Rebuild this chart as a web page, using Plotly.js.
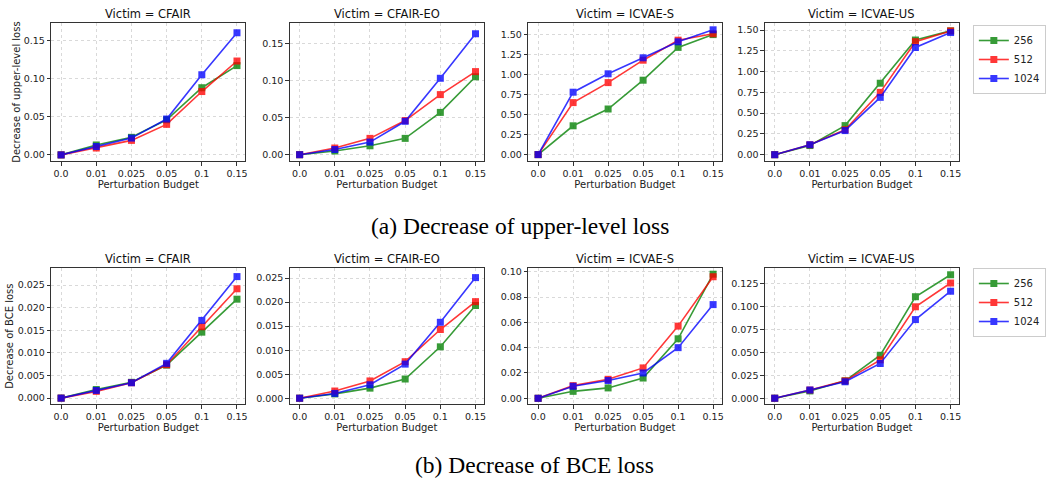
<!DOCTYPE html>
<html>
<head>
<meta charset="utf-8">
<script src="https://cdn.plot.ly/plotly-3.0.1.min.js"></script>
<style>html,body{margin:0;padding:0;background:#fff;}#chart{width:1046px;height:485px;}</style>
</head>
<body>
<div id="chart"></div>
<script>
// ---- data ----
const budgets = ["0.0", "0.01", "0.025", "0.05", "0.1", "0.15"];
const seriesNames = ["256", "512", "1024"];
const victims = ["CFAIR", "CFAIR-EO", "ICVAE-S", "ICVAE-US"];

// Row (a): Decrease of upper-level loss
const upper_CFAIR_256  = [0, 0.013, 0.023, 0.046, 0.088, 0.117];
const upper_CFAIR_512  = [0, 0.009, 0.019, 0.040, 0.083, 0.123];
const upper_CFAIR_1024 = [0, 0.011, 0.022, 0.047, 0.105, 0.160];

const upper_CFAIREO_256  = [0, 0.005, 0.012, 0.022, 0.057, 0.105];
const upper_CFAIREO_512  = [0, 0.009, 0.022, 0.046, 0.081, 0.112];
const upper_CFAIREO_1024 = [0, 0.007, 0.017, 0.045, 0.103, 0.163];

const upper_ICVAES_256  = [0, 0.36, 0.57, 0.93, 1.34, 1.50];
const upper_ICVAES_512  = [0, 0.65, 0.90, 1.18, 1.43, 1.51];
const upper_ICVAES_1024 = [0, 0.78, 1.01, 1.21, 1.41, 1.56];

const upper_ICVAEUS_256  = [0, 0.11, 0.35, 0.86, 1.38, 1.49];
const upper_ICVAEUS_512  = [0, 0.12, 0.30, 0.75, 1.36, 1.49];
const upper_ICVAEUS_1024 = [0, 0.12, 0.29, 0.69, 1.29, 1.47];

// Row (b): Decrease of BCE loss
const bce_CFAIR_256  = [0, 0.0019, 0.0035, 0.0073, 0.0146, 0.0219];
const bce_CFAIR_512  = [0, 0.0015, 0.0034, 0.0074, 0.0158, 0.0242];
const bce_CFAIR_1024 = [0, 0.0017, 0.0034, 0.0077, 0.0172, 0.0269];

const bce_CFAIREO_256  = [0, 0.0009, 0.0021, 0.0040, 0.0107, 0.0193];
const bce_CFAIREO_512  = [0, 0.0015, 0.0036, 0.0076, 0.0143, 0.0201];
const bce_CFAIREO_1024 = [0, 0.0010, 0.0028, 0.0071, 0.0158, 0.0251];

const bce_ICVAES_256  = [0, 0.0055, 0.0082, 0.016, 0.047, 0.098];
const bce_ICVAES_512  = [0, 0.010, 0.015, 0.024, 0.057, 0.096];
const bce_ICVAES_1024 = [0, 0.0095, 0.014, 0.020, 0.040, 0.074];

const bce_ICVAEUS_256  = [0, 0.008, 0.019, 0.047, 0.111, 0.135];
const bce_ICVAEUS_512  = [0, 0.009, 0.019, 0.042, 0.100, 0.126];
const bce_ICVAEUS_1024 = [0, 0.009, 0.018, 0.038, 0.086, 0.117];

const rows = [
  [[upper_CFAIR_256, upper_CFAIR_512, upper_CFAIR_1024],
   [upper_CFAIREO_256, upper_CFAIREO_512, upper_CFAIREO_1024],
   [upper_ICVAES_256, upper_ICVAES_512, upper_ICVAES_1024],
   [upper_ICVAEUS_256, upper_ICVAEUS_512, upper_ICVAEUS_1024]],
  [[bce_CFAIR_256, bce_CFAIR_512, bce_CFAIR_1024],
   [bce_CFAIREO_256, bce_CFAIREO_512, bce_CFAIREO_1024],
   [bce_ICVAES_256, bce_ICVAES_512, bce_ICVAES_1024],
   [bce_ICVAEUS_256, bce_ICVAEUS_512, bce_ICVAEUS_1024]]
];
const yTitles = ["Decrease of upper-level loss", "Decrease of BCE loss"];
const captions = ["(a) Decrease of upper-level loss", "(b) Decrease of BCE loss"];

// ---- styling / layout ----
const colors = ["#008000", "#ff0000", "#0000ff"];
const W = 1046, H = 485;
const xPix = [[52, 249], [294, 491], [536, 732], [776, 973]];
const yPix = [[23, 161], [268, 404]];
const yTitleX = [16, 9];
const yRanges = [
  [[-0.008, 0.1728], [-0.0085, 0.1775], [-0.08, 1.645], [-0.076, 1.585]],
  [[-0.0013, 0.0288], [-0.0012, 0.0271], [-0.0045, 0.1029], [-0.0063, 0.1424]]
];
const yTicks = [
  [[0, 0.05, 0.10, 0.15], [0, 0.05, 0.10, 0.15], [0, 0.25, 0.5, 0.75, 1.0, 1.25, 1.5], [0, 0.25, 0.5, 0.75, 1.0, 1.25, 1.5]],
  [[0, 0.005, 0.01, 0.015, 0.02, 0.025], [0, 0.005, 0.01, 0.015, 0.02, 0.025], [0, 0.02, 0.04, 0.06, 0.08, 0.10], [0, 0.025, 0.05, 0.075, 0.1, 0.125]]
];
const yFormats = [[".2f", ".2f", ".2f", ".2f"], [".3f", ".3f", ".2f", ".3f"]];

const font = "DejaVu Sans, sans-serif";
const tickSize = 9.5;
const traces = [];
const layout = {
  width: W, height: H,
  margin: {l: 0, r: 0, t: 0, b: 0},
  paper_bgcolor: "#fff", plot_bgcolor: "#fff",
  font: {family: font, size: 10, color: "#222"},
  annotations: [],
  showlegend: true
};

for (let r = 0; r < 2; r++) {
  for (let c = 0; c < 4; c++) {
    const idx = r * 4 + c + 1;
    const xa = "x" + idx, ya = "y" + idx;
    const xKey = "xaxis" + idx, yKey = "yaxis" + idx;
    layout[xKey] = {
      domain: [xPix[c][0] / W, xPix[c][1] / W],
      anchor: ya, type: "category", range: [-0.28, 5.24],
      showline: true, linecolor: "#333", linewidth: 1, mirror: true,
      ticks: "outside", ticklen: 3.5, tickcolor: "#333",
      showgrid: true, gridcolor: "#d0d0d0", griddash: "dot", gridwidth: 0.8,
      zeroline: false, tickfont: {size: tickSize, color: "#222"},
      title: {text: "Perturbation Budget", font: {size: 10, color: "#222"}, standoff: 2}
    };
    layout[yKey] = {
      domain: [1 - yPix[r][1] / H, 1 - yPix[r][0] / H],
      anchor: xa, range: yRanges[r][c],
      tickvals: yTicks[r][c], tickformat: yFormats[r][c],
      showline: true, linecolor: "#333", linewidth: 1, mirror: true,
      ticks: "outside", ticklen: 3.5, tickcolor: "#333",
      showgrid: true, gridcolor: "#d0d0d0", griddash: "dot", gridwidth: 0.8,
      zeroline: false, tickfont: {size: tickSize, color: "#222"}
    };
    if (c === 0) {
      // y-axis title placed as rotated annotation
      layout.annotations.push({
        text: yTitles[r], xref: "paper", yref: "paper",
        x: yTitleX[r] / W, y: 1 - (yPix[r][0] + yPix[r][1]) / 2 / H,
        xanchor: "center", yanchor: "middle", textangle: -90, showarrow: false,
        font: {family: font, size: 10, color: "#222"}
      });
    }
    // subplot title
    layout.annotations.push({
      text: "Victim = " + victims[c],
      xref: "paper", yref: "paper",
      x: (xPix[c][0] + xPix[c][1]) / 2 / W, y: 1 - (yPix[r][0]) / H,
      xanchor: "center", yanchor: "bottom", showarrow: false,
      font: {family: font, size: 11.5, color: "#111"}
    });
    for (let s = 0; s < 3; s++) {
      traces.push({
        x: budgets, y: rows[r][c][s], xaxis: xa, yaxis: ya,
        type: "scatter", mode: "lines+markers", name: seriesNames[s],
        legend: r === 0 ? "legend" : "legend2",
        showlegend: c === 3,
        line: {color: colors[s], width: 1.6},
        marker: {symbol: "square", size: 7, color: colors[s]},
        opacity: 0.78
      });
    }
  }
}

const legendStyle = {
  xref: "paper", yref: "paper", xanchor: "left", yanchor: "top",
  bgcolor: "#fff", bordercolor: "#cccccc", borderwidth: 1,
  font: {family: font, size: 10, color: "#222"},
  tracegroupgap: 0, itemwidth: 30
};
layout.legend = Object.assign({}, legendStyle, {x: 987 / W, y: 1 - 25 / H});
layout.legend2 = Object.assign({}, legendStyle, {x: 987 / W, y: 1 - 268 / H});

// captions
layout.annotations.push({
  text: captions[0], xref: "paper", yref: "paper",
  x: 528 / W, y: 1 - 226 / H, xanchor: "center", yanchor: "middle", showarrow: false,
  font: {family: "Liberation Serif, Times New Roman, serif", size: 23.5, color: "#000"}
});
layout.annotations.push({
  text: captions[1], xref: "paper", yref: "paper",
  x: 542 / W, y: 1 - 465 / H, xanchor: "center", yanchor: "middle", showarrow: false,
  font: {family: "Liberation Serif, Times New Roman, serif", size: 23.5, color: "#000"}
});

Plotly.newPlot("chart", traces, layout, {staticPlot: true, displayModeBar: false});
</script>
</body>
</html>
